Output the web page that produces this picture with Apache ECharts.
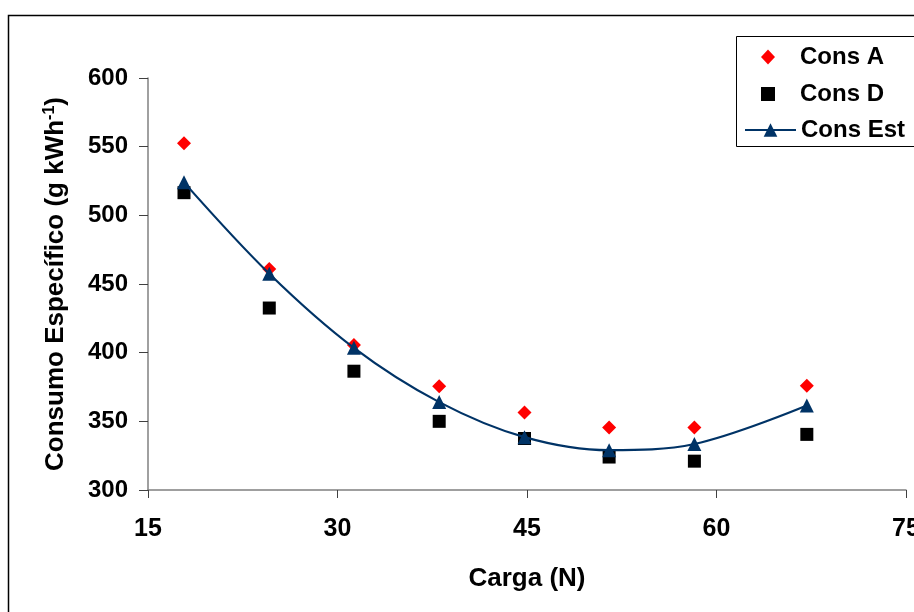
<!DOCTYPE html>
<html>
<head>
<meta charset="utf-8">
<script src="https://cdn.jsdelivr.net/npm/echarts@6/dist/echarts.min.js"></script>
<style>
  html, body { margin: 0; padding: 0; background: #fff; }
  #chart { width: 914px; height: 612px; }
</style>
</head>
<body>
<div id="chart"></div>
<script>
// Load (N) at each test point
const carga = [17.85, 24.6, 31.3, 38.05, 44.8, 51.5, 58.25, 67.15];
// Specific consumption (g kWh-1)
const consA = [552.5, 461, 405.5, 375.5, 356.5, 345.5, 345.5, 376];
const consD = [516.5, 432.5, 386.5, 350, 337.5, 324, 321, 340.5];
const consEst = [524, 457.5, 403.5, 364, 338.5, 329, 333.5, 361.5];
// Axis ticks
const xTicks = [15, 30, 45, 60, 75];
const yTicks = [300, 350, 400, 450, 500, 550, 600];

const pairs = (xs, ys) => xs.map((x, i) => [x, ys[i]]);

const FONT = '"Liberation Sans", Arial, sans-serif';
const chart = echarts.init(document.getElementById('chart'), null, { renderer: 'canvas' });

const legendText = { fontFamily: FONT, fontSize: 24, fontWeight: 'bold', color: '#000', lineHeight: 24 };

// One legend per entry so each marker keeps its own icon width
function legendEntry(name, top, iconWidth, iconHeight, left, textPad) {
  return {
    left: left,
    top: top,
    orient: 'vertical',
    itemWidth: iconWidth,
    itemHeight: iconHeight,
    padding: 0,
    selectedMode: false,
    textStyle: Object.assign({}, legendText, { padding: [0, 0, 0, textPad] }),
    data: [name]
  };
}

chart.setOption({
  backgroundColor: '#ffffff',
  animation: false,
  textStyle: { fontFamily: FONT },
  graphic: [
    {
      type: 'rect',
      z: -10,
      shape: { x: 8.5, y: 15.5, width: 1200, height: 1200 },
      style: { fill: 'none', stroke: '#000', lineWidth: 1.5 }
    },
    {
      type: 'rect',
      z: -5,
      shape: { x: 736.5, y: 36.5, width: 300, height: 110 },
      style: { fill: '#fff', stroke: '#000', lineWidth: 1 }
    }
  ],
  grid: { left: 148, right: 8, top: 78, bottom: 122, containLabel: false, outerBoundsMode: 'none' },
  legend: [
    legendEntry('Cons A', 45, 14, 15, 761, 20),
    legendEntry('Cons D', 82, 14, 14, 761, 20),
    legendEntry('Cons Est', 118, 51, 17, 744, 0)
  ],
  xAxis: {
    type: 'value',
    min: xTicks[0],
    max: xTicks[xTicks.length - 1],
    interval: xTicks[1] - xTicks[0],
    name: 'Carga (N)',
    nameLocation: 'middle',
    nameGap: 76,
    nameTextStyle: { fontFamily: FONT, fontSize: 26, fontWeight: 'bold', color: '#000' },
    axisLine: { onZero: false, lineStyle: { color: '#808080', width: 1.5 } },
    axisTick: { show: true, inside: false, length: 8, lineStyle: { color: '#404040', width: 1 } },
    axisLabel: { margin: 27, fontFamily: FONT, fontSize: 25, fontWeight: 'bold', color: '#000', hideOverlap: false },
    splitLine: { show: false }
  },
  yAxis: {
    type: 'value',
    min: yTicks[0],
    max: yTicks[yTicks.length - 1],
    interval: yTicks[1] - yTicks[0],
    name: 'Consumo Específico (g kWh{sup|-1})',
    nameLocation: 'middle',
    nameRotate: 90,
    nameGap: 78,
    nameTextStyle: {
      fontFamily: FONT, fontSize: 26, fontWeight: 'bold', color: '#000',
      rich: {
        sup: { fontFamily: FONT, fontSize: 16, fontWeight: 'bold', color: '#000', padding: [0, 0, 12, 0] }
      }
    },
    axisLine: { onZero: false, lineStyle: { color: '#808080', width: 1.5 } },
    axisTick: { show: true, inside: false, length: 9, lineStyle: { color: '#404040', width: 1 } },
    axisLabel: { margin: 20, fontFamily: FONT, fontSize: 24, fontWeight: 'bold', color: '#000' },
    splitLine: { show: false }
  },
  series: [
    {
      name: 'Cons A',
      type: 'scatter',
      symbol: 'diamond',
      symbolSize: 14,
      itemStyle: { color: '#ff0000', opacity: 1 },
      data: pairs(carga, consA)
    },
    {
      name: 'Cons D',
      type: 'scatter',
      symbol: 'rect',
      symbolSize: 13,
      itemStyle: { color: '#000000', opacity: 1 },
      data: pairs(carga, consD)
    },
    {
      name: 'Cons Est',
      type: 'line',
      smooth: 0.35,
      symbol: 'triangle',
      symbolSize: 14,
      showAllSymbol: true,
      lineStyle: { color: '#003366', width: 2.2 },
      itemStyle: { color: '#003366', opacity: 1 },
      data: pairs(carga, consEst)
    }
  ]
});
</script>
</body>
</html>
